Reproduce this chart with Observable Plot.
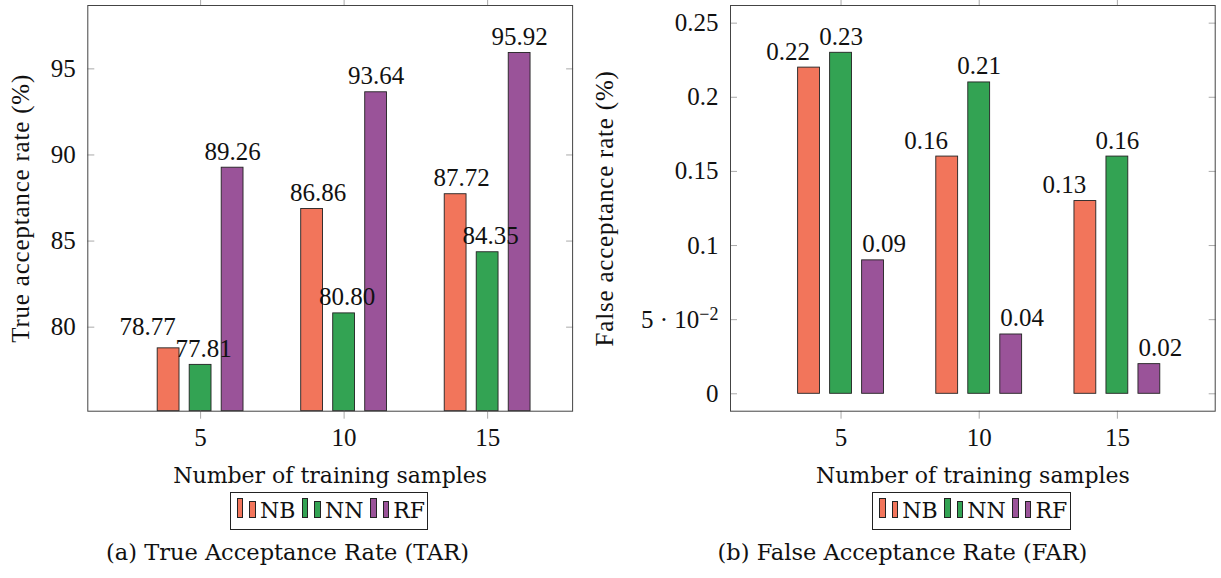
<!DOCTYPE html>
<html>
<head>
<meta charset="utf-8">
<script src="https://cdn.jsdelivr.net/npm/d3@7"></script>
<script src="https://cdn.jsdelivr.net/npm/@observablehq/plot@0.6"></script>
<style>
  html, body { margin: 0; padding: 0; background: #fff; }
  #page { position: relative; width: 1221px; height: 578px; overflow: hidden; background: #fff; }
  .chart { position: absolute; top: 0; }
  .chart svg { overflow: visible; font-family: "Liberation Serif", "Times New Roman", serif !important; font-size: 25px !important; }
  .chart svg text { font-family: "Liberation Serif", "Times New Roman", serif !important; }
  .chart g[aria-label="x-axis label"] text { font-family: "DejaVu Serif", serif !important; font-size: 22px; }
  .chart g[aria-label="y-axis label"] text { letter-spacing: 0.8px; }
  .legend { position: absolute; top: 491.7px; height: 38.3px; box-sizing: border-box; border: 1px solid #222;
            font-family: "DejaVu Serif", serif; font-size: 22px; line-height: 36px; white-space: nowrap; padding-left: 5.7px; color: #111; }
  .sw { display: inline-block; box-sizing: border-box; width: 6.7px; border: 1px solid #222; vertical-align: baseline; }
  .caption { position: absolute; top: 539px; font-family: "DejaVu Serif", serif; font-size: 22.5px; color: #111; text-align: center; white-space: nowrap; }
</style>
</head>
<body>
<div id="page">
  <div id="left" class="chart" style="left:0px"></div>
  <div id="right" class="chart" style="left:590px"></div>
  <div id="legL" class="legend" style="left:230px;width:198.3px"></div>
  <div id="legR" class="legend" style="left:872.3px;width:198.7px"></div>
  <div class="caption" style="left:87.5px;width:400px">(a) True Acceptance Rate (TAR)</div>
  <div class="caption" style="left:702.5px;width:400px">(b) False Acceptance Rate (FAR)</div>
</div>
<script>
// ---- data ----
const samples = [5, 10, 15];
const methods = ["NB", "NN", "RF"];
const colors = ["#f2755b", "#33a353", "#9a5399"];
const tarNB = [78.77, 86.86, 87.72];
const tarNN = [77.81, 80.80, 84.35];
const tarRF = [89.26, 93.64, 95.92];
const farNB = [0.22, 0.16, 0.13];
const farNN = [0.23, 0.21, 0.16];
const farRF = [0.09, 0.04, 0.02];
const tarTicks = [80, 85, 90, 95];
const farTicks = [0, 0.05, 0.1, 0.15, 0.2, 0.25];
const farTickLabels = ["0", "5·10^-2", "0.1", "0.15", "0.2", "0.25"];
const xLabel = "Number of training samples";

function rowsOf(series) {
  return samples.flatMap((n, i) => methods.map((m, j) => ({n, m, j, v: series[j][i]})));
}

function makeChart(cfg) {
  const rows = rowsOf(cfg.series);
  const cx = d => d.n + (d.j - 1) * cfg.off;
  const base = cfg.base;
  const marks = [
    Plot.rectY(rows, {
      x1: d => cx(d) - cfg.bw / 2, x2: d => cx(d) + cfg.bw / 2,
      y1: d => base, y2: "v", fill: "m", stroke: "#222", strokeWidth: 0.9
    })
  ];
  methods.forEach((m, j) => {
    marks.push(Plot.text(rows.filter(d => d.m === m && !(cfg.special && cfg.special.m === m && cfg.special.n === d.n)), {
      x: cx, y: "v", text: d => d.v.toFixed(2), lineAnchor: "bottom",
      dy: -8, dx: cfg.shift[j], fill: "#111", fontSize: 25
    }));
  });
  if (cfg.special) {
    const s = cfg.special;
    marks.push(Plot.text(rows.filter(d => d.m === s.m && d.n === s.n), {
      x: cx, y: "v", text: d => d.v.toFixed(2), lineAnchor: "bottom",
      dy: s.dy, dx: s.dx, fill: "#111", fontSize: 25
    }));
  }
  marks.push(
    Plot.axisX({anchor: "bottom", ticks: samples, tickSize: 8, tickPadding: 9, stroke: "#aaa", fill: "#111", fontSize: 25,
      tickFormat: d => String(d), label: xLabel, labelAnchor: "center", labelOffset: 71.3, labelArrow: "none"}),
    Plot.axisX({anchor: "top", ticks: samples, tickSize: 8, stroke: "#aaa", tickFormat: () => "", label: null}),
    Plot.axisY({anchor: "left", ticks: cfg.yTicks, tickSize: -7, tickPadding: 19, stroke: "#aaa", fill: "#111", fontSize: 25,
      tickFormat: cfg.yFmt, label: cfg.yLabel, labelAnchor: "center", labelOffset: cfg.labelOffset, labelArrow: "none"}),
    Plot.axisY({anchor: "right", ticks: cfg.yTicks, tickSize: -7, stroke: "#aaa", tickFormat: () => "", label: null}),
    Plot.frame({stroke: "#444", strokeWidth: 1})
  );
  const svg = Plot.plot({
    width: cfg.width, height: 488,
    marginLeft: cfg.ml, marginRight: cfg.mr, marginTop: 5, marginBottom: 77.3,
    style: "font-family: 'Liberation Serif', serif; font-size: 25px; color: #111; background: white;",
    x: {type: "linear", domain: cfg.xDomain},
    y: {type: "linear", domain: cfg.yDomain},
    color: {domain: methods, range: colors},
    marks
  });
  // superscript handling for the 5·10^-2 tick label
  d3.select(svg).selectAll('g[aria-label="y-axis tick label"] text').each(function () {
    const t = this.textContent;
    if (t.includes("^")) {
      const [a, b] = t.split("^");
      const el = d3.select(this);
      el.text(null);
      el.append("tspan").text(a.replace("·", " · "));
      el.append("tspan").attr("dy", "-0.45em").attr("font-size", "0.72em").text(b.replace("-", "−"));
    }
  });
  return svg;
}

document.getElementById("left").appendChild(makeChart({
  series: [tarNB, tarNN, tarRF],
  width: 600, ml: 87.3, mr: 27.9,
  xDomain: [1.07, 17.96], yDomain: [75.12, 98.68], base: 75.12,
  off: 1.115, bw: 0.76,
  yTicks: tarTicks, yFmt: d => String(d),
  yLabel: "True acceptance rate (%)", labelOffset: 77,
  shift: [6, 3, 0],
  special: {m: "NB", n: 5, dx: -21, dy: -13}
}));

document.getElementById("right").appendChild(makeChart({
  series: [farNB, farNN, farRF],
  width: 631, ml: 140, mr: 6.3,
  xDomain: [1.0, 18.54], yDomain: [-0.01174, 0.2619], base: 0,
  off: 1.158, bw: 0.79,
  yTicks: farTicks, yFmt: d => farTickLabels[farTicks.indexOf(d)],
  yLabel: "False acceptance rate (%)", labelOffset: 135,
  shift: [-21, 0, 11],
  special: null
}));

function legend(id) {
  const box = document.getElementById(id);
  methods.forEach((m, j) => {
    const s1 = document.createElement("span");
    s1.className = "sw"; s1.style.height = "20px"; s1.style.background = colors[j]; s1.style.marginRight = "5.9px";
    const s2 = document.createElement("span");
    s2.className = "sw"; s2.style.height = "16.7px"; s2.style.background = colors[j]; s2.style.marginRight = "4px";
    const t = document.createElement("span");
    t.textContent = m; t.style.marginRight = "6.4px";
    box.appendChild(s1); box.appendChild(s2); box.appendChild(t);
  });
}
legend("legL");
legend("legR");
</script>
</body>
</html>
